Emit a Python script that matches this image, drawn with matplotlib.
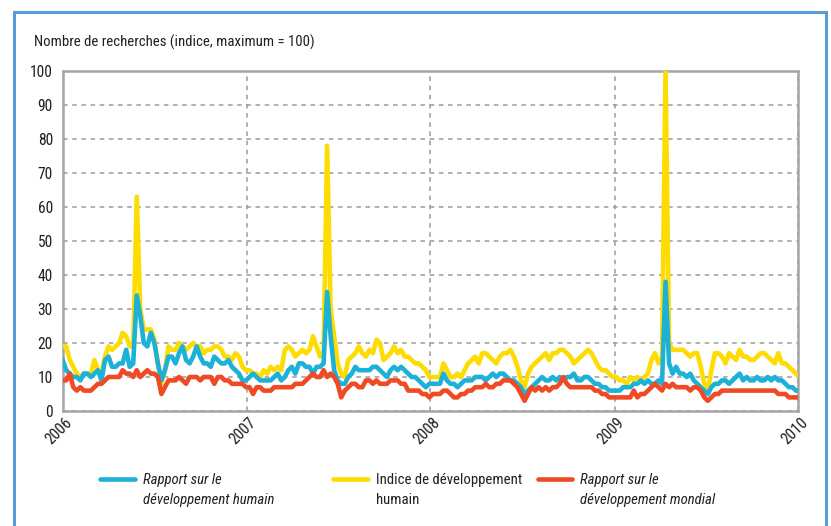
import matplotlib
matplotlib.use("Agg")
import matplotlib.pyplot as plt
import pandas as pd
from matplotlib.lines import Line2D
from matplotlib.patches import Rectangle
from matplotlib.transforms import ScaledTranslation

FONTS = ['Roboto Condensed', 'Fira Sans Condensed', 'Asap Condensed',
         'Archivo Narrow', 'DejaVu Sans']
plt.rcParams['font.family'] = FONTS

# ---------------- data (weekly search index, max = 100) ----------------
year_labels = ['2006', '2007', '2008', '2009', '2010']
y_ticks = [0, 10, 20, 30, 40, 50, 60, 70, 80, 90, 100]

rdh_2006 = [15, 12, 11, 10, 10, 9, 11, 11, 10, 11, 12, 9, 15, 16, 13, 13, 14, 14, 18, 13,
            14, 34, 28, 20, 19, 23, 20, 14, 9, 12, 16, 16, 14, 17, 19, 15, 14, 16, 19, 16,
            14, 14, 13, 16, 15, 14, 14, 15, 13, 12, 11, 9]
rdh_2007 = [9, 10, 11, 10, 9, 9, 9, 9, 10, 11, 9, 10, 12, 13, 11, 14, 14, 13, 13, 11,
            13, 13, 14, 35, 22, 12, 9, 8, 8, 10, 11, 13, 12, 12, 12, 12, 13, 13, 12, 11,
            10, 12, 13, 12, 13, 12, 11, 10, 10, 9, 8, 7]
rdh_2008 = [8, 8, 8, 8, 11, 9, 8, 8, 7, 8, 9, 9, 9, 10, 10, 10, 9, 10, 11, 10,
            11, 11, 10, 9, 9, 8, 7, 5, 6, 7, 8, 9, 10, 9, 9, 10, 9, 10, 9, 10,
            10, 11, 9, 9, 10, 10, 9, 8, 8, 7, 7, 6]
rdh_2009 = [6, 6, 6, 7, 7, 7, 8, 8, 9, 8, 9, 8, 8, 9, 8, 38, 14, 11, 13, 11,
            11, 10, 11, 9, 8, 7, 6, 5, 7, 8, 8, 9, 9, 8, 9, 10, 11, 9, 10, 9,
            9, 10, 9, 9, 10, 9, 10, 9, 9, 8, 7, 7, 6, 6]

idh_2006 = [19, 19, 15, 13, 11, 10, 11, 11, 11, 15, 12, 11, 16, 19, 18, 19, 20, 23, 22, 19,
            19, 63, 30, 24, 24, 24, 21, 14, 8, 12, 19, 18, 18, 20, 19, 18, 19, 20, 19, 19,
            17, 18, 18, 19, 19, 18, 16, 16, 15, 17, 16, 13]
idh_2007 = [12, 12, 11, 11, 10, 12, 11, 13, 12, 13, 12, 18, 19, 18, 16, 17, 18, 17, 18, 22,
            19, 16, 17, 78, 30, 22, 14, 11, 10, 15, 16, 17, 19, 17, 16, 18, 17, 21, 20, 15,
            16, 17, 19, 17, 18, 16, 16, 15, 14, 14, 13, 12]
idh_2008 = [10, 10, 10, 10, 14, 12, 10, 10, 11, 10, 12, 14, 15, 16, 14, 17, 17, 16, 15, 14,
            16, 17, 17, 18, 16, 13, 9, 7, 11, 13, 14, 15, 16, 17, 15, 17, 17, 18, 18, 17,
            16, 14, 15, 16, 17, 18, 17, 15, 13, 12, 12, 11]
idh_2009 = [10, 10, 9, 9, 8, 10, 9, 10, 9, 10, 11, 15, 17, 14, 16, 100, 20, 18, 18, 18,
            18, 17, 16, 17, 17, 13, 8, 6, 12, 17, 17, 16, 14, 17, 16, 15, 18, 16, 16, 15,
            15, 16, 17, 17, 16, 15, 14, 17, 14, 14, 13, 12, 11, 10]

rdm_2006 = [9, 9, 11, 7, 6, 7, 6, 6, 6, 7, 8, 8, 9, 10, 10, 10, 10, 12, 11, 11,
            10, 12, 10, 11, 12, 11, 11, 10, 5, 7, 9, 9, 9, 10, 9, 8, 10, 10, 10, 9,
            10, 10, 10, 8, 10, 10, 9, 9, 8, 8, 8, 8]
rdm_2007 = [7, 7, 5, 7, 7, 6, 6, 6, 7, 7, 7, 7, 7, 7, 8, 8, 8, 9, 10, 11,
            10, 10, 12, 10, 11, 10, 8, 4, 6, 7, 8, 8, 7, 7, 9, 9, 8, 9, 8, 8,
            8, 9, 9, 9, 8, 8, 6, 6, 6, 6, 5, 5]
rdm_2008 = [4, 5, 5, 5, 6, 6, 5, 4, 4, 5, 5, 6, 6, 7, 7, 7, 8, 7, 7, 8,
            8, 9, 9, 9, 8, 7, 5, 3, 5, 7, 6, 7, 6, 7, 6, 7, 7, 8, 10, 8,
            7, 7, 7, 7, 7, 7, 7, 6, 6, 5, 5, 4]
rdm_2009 = [4, 4, 4, 4, 4, 4, 6, 4, 5, 5, 6, 7, 8, 7, 6, 8, 7, 8, 7, 7,
            7, 7, 6, 7, 7, 6, 4, 3, 4, 5, 5, 6, 6, 6, 6, 6, 6, 6, 6, 6,
            6, 6, 6, 6, 6, 6, 6, 5, 5, 5, 4, 4, 4, 4]

rdh = rdh_2006 + rdh_2007 + rdh_2008 + rdh_2009
idh = idh_2006 + idh_2007 + idh_2008 + idh_2009
rdm = rdm_2006 + rdm_2007 + rdm_2008 + rdm_2009
weeks = pd.date_range('2006-01-01', periods=len(rdh), freq='7D')

title = 'Nombre de recherches (indice, maximum = 100)'
series_labels = ['Rapport sur le\ndéveloppement humain',
                 'Indice de développement\nhumain',
                 'Rapport sur le\ndéveloppement mondial']

# ---------------- style ----------------
C_BLUE = '#1db1d7'
C_YELLOW = '#ffdc00'
C_RED = '#ef4a24'
C_GRID = '#9b9b9b'
C_SPINE = '#a5a5a5'
C_FRAME = '#5b9bd5'
C_TEXT = '#231f20'
FS = 10.6
FS_TICK = 11.2

fig = plt.figure(figsize=(8.31, 5.26), dpi=100)
W, H = 831, 526
ax = fig.add_axes([62.7 / W, 1 - 411 / H, (798.5 - 62.7) / W, (411 - 71) / H])

lw = 3.3
ax.plot(weeks, idh, color=C_YELLOW, lw=lw, zorder=3)
ax.plot(weeks, rdh, color=C_BLUE, lw=lw, zorder=4)
ax.plot(weeks, rdm, color=C_RED, lw=lw, zorder=5)

ax.set_xlim(pd.Timestamp('2006-01-01'), pd.Timestamp('2010-01-01'))
ax.set_ylim(0, 100)
ax.set_yticks(y_ticks)
ax.set_yticklabels([str(v) for v in y_ticks])
ax.set_xticks([pd.Timestamp(y + '-01-01') for y in year_labels])
ax.set_xticklabels(year_labels, rotation=45, ha='right', va='center',
                   rotation_mode='anchor')
ax.tick_params(axis='both', length=0, labelsize=FS_TICK, colors=C_TEXT)
ax.tick_params(axis='y', pad=7)
ax.tick_params(axis='x', pad=7)
shift = ScaledTranslation(7 / 100, 0, fig.dpi_scale_trans)
for lbl in ax.get_xticklabels():
    lbl.set_transform(lbl.get_transform() + shift)

ax.grid(True, linestyle=(0, (3, 3)), color=C_GRID, lw=1.1, zorder=1)
ax.set_axisbelow(True)
for s in ax.spines.values():
    s.set_color(C_SPINE)
    s.set_linewidth(1.8)

# title
fig.text(34 / W, 1 - 42 / H, title, fontsize=FS, color=C_TEXT,
         va='center', ha='left')

# legend (manual)
leg_y = 1 - 479 / H
entries = [(C_BLUE, 100, 135, 143, 'italic'),
           (C_YELLOW, 333, 368, 376, 'normal'),
           (C_RED, 538, 572, 580, 'italic')]
for (col, x0, x1, xt, style), lab in zip(entries, series_labels):
    fig.add_artist(Line2D([x0 / W, x1 / W], [leg_y, leg_y], color=col, lw=3.3,
                          solid_capstyle='round', transform=fig.transFigure))
    fig.text(xt / W, 1 - 473 / H, lab, fontsize=FS, style=style, color=C_TEXT,
             va='top', ha='left', linespacing=1.55)

# outer blue frame
fig.add_artist(Rectangle((14 / W, -0.1), (826 - 14) / W, 1 - 12 / H + 0.1,
                         fill=False, edgecolor=C_FRAME, lw=2.2,
                         transform=fig.transFigure))

fig.savefig('out.png', dpi=100)
